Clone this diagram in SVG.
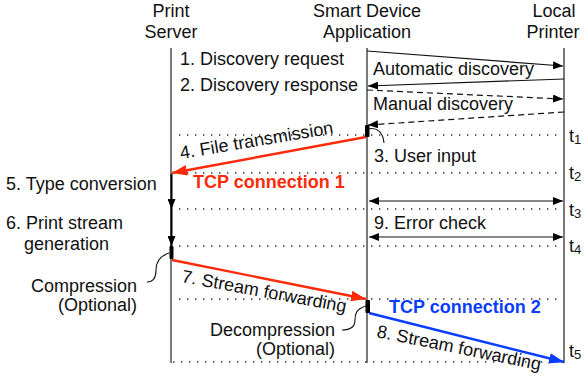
<svg xmlns="http://www.w3.org/2000/svg" width="586" height="379" viewBox="0 0 586 379">
<defs>
<style>
text{font-family:"Liberation Sans",Arial,sans-serif;font-size:18px;fill:#111}
.life{stroke:#333;stroke-width:1.3;fill:none}
.dot{stroke:#333;stroke-width:1.4;stroke-dasharray:1.4 6.6;fill:none}
.msg{stroke:#111;stroke-width:1.2;fill:none}
.dash{stroke:#111;stroke-width:1.2;stroke-dasharray:6 4;fill:none}
.red{stroke:#ff2a0a;stroke-width:2.4;fill:none}
.blue{stroke:#0a3cff;stroke-width:2.4;fill:none}
.bar{fill:#000}
.curve{stroke:#111;stroke-width:1.1;fill:none}
.tcp1{fill:#ff2a0a;font-weight:bold}
.tcp2{fill:#0a3cff;font-weight:bold}
.sub{font-size:13px}
</style>
<marker id="ah" viewBox="0 0 10 8" refX="10" refY="4" markerWidth="10" markerHeight="8" markerUnits="userSpaceOnUse" orient="auto-start-reverse"><path d="M0,0L10,4L0,8z" fill="#000"/></marker>
<marker id="ahr" viewBox="0 0 14 10" refX="14" refY="5" markerWidth="15" markerHeight="11" markerUnits="userSpaceOnUse" orient="auto"><path d="M0,0L14,5L0,10z" fill="#ff2a0a"/></marker>
<marker id="ahb" viewBox="0 0 14 10" refX="14" refY="5" markerWidth="15" markerHeight="11" markerUnits="userSpaceOnUse" orient="auto"><path d="M0,0L14,5L0,10z" fill="#0a3cff"/></marker>
</defs>

<g id="print-server">
<text x="171" y="17" text-anchor="middle">Print</text>
<text x="171" y="38" text-anchor="middle">Server</text>
<line class="life" x1="171" y1="48" x2="171" y2="363"/>
</g>
<g id="smart-device">
<text x="367" y="17" text-anchor="middle">Smart Device</text>
<text x="367" y="38" text-anchor="middle">Application</text>
<line class="life" x1="367" y1="48" x2="367" y2="363"/>
</g>
<g id="local-printer">
<text x="554" y="17" text-anchor="middle">Local</text>
<text x="553" y="38" text-anchor="middle">Printer</text>
<line class="life" x1="564" y1="48" x2="564" y2="363"/>
</g>

<g id="time-marks">
<line class="dot" x1="179" y1="135" x2="562" y2="135"/>
<line class="dot" x1="179" y1="173" x2="562" y2="173"/>
<line class="dot" x1="179" y1="209" x2="562" y2="209"/>
<line class="dot" x1="179" y1="246" x2="562" y2="246"/>
<line class="dot" x1="179" y1="299" x2="562" y2="299"/>
<line class="dot" x1="173" y1="362" x2="562" y2="362"/>
<text x="569" y="142">t<tspan class="sub" dy="2">1</tspan></text>
<text x="569" y="179">t<tspan class="sub" dy="2">2</tspan></text>
<text x="569" y="216">t<tspan class="sub" dy="2">3</tspan></text>
<text x="569" y="252">t<tspan class="sub" dy="2">4</tspan></text>
<text x="569" y="357">t<tspan class="sub" dy="2">5</tspan></text>
</g>

<g id="connectors">
<line class="msg" x1="367" y1="51" x2="563" y2="66" marker-end="url(#ah)"/>
<line class="msg" x1="564" y1="79" x2="368" y2="86" marker-end="url(#ah)"/>
<line class="dash" x1="367" y1="90" x2="563" y2="99" marker-end="url(#ah)"/>
<line class="dash" x1="564" y1="112" x2="368" y2="125" marker-end="url(#ah)"/>
<line class="red" x1="366" y1="137" x2="172" y2="173" marker-end="url(#ahr)"/>
<line class="msg" x1="369" y1="201" x2="563" y2="201" stroke-width="1.4" marker-start="url(#ah)" marker-end="url(#ah)"/>
<line class="msg" x1="369" y1="237" x2="563" y2="237" stroke-width="1.4" marker-start="url(#ah)" marker-end="url(#ah)"/>
<line x1="171.5" y1="174" x2="171.5" y2="209" stroke="#000" stroke-width="2" marker-end="url(#ah)"/>
<line x1="171.5" y1="209" x2="171.5" y2="246" stroke="#000" stroke-width="2" marker-end="url(#ah)"/>
<line class="red" x1="172" y1="260" x2="366" y2="299" marker-end="url(#ahr)"/>
<line class="blue" x1="369" y1="313" x2="564" y2="362" marker-end="url(#ahb)"/>
<path class="curve" d="M368,129 C377,127 383,132 384,143"/>
<path class="curve" d="M169,253 C160,256 156,262 156,270 C156,278 153,282 147,282"/>
<path class="curve" d="M366,306 C356,309 355,314 355,320 C355,327 350,330 342,330"/>
</g>

<g id="blocks">
<rect class="bar" x="365" y="125" width="4.5" height="12" rx="1"/>
<rect class="bar" x="169.5" y="246" width="4" height="13" rx="1"/>
<rect class="bar" x="365.5" y="300" width="4.5" height="13" rx="1"/>
</g>

<g id="labels">
<text x="180" y="65">1. Discovery request</text>
<text x="180" y="91">2. Discovery response</text>
<text x="373" y="75">Automatic discovery</text>
<text x="373" y="110">Manual discovery</text>
<text x="374" y="162">3. User input</text>
<text transform="translate(181,159) rotate(-9.5)">4. File transmission</text>
<text class="tcp1" x="193" y="188">TCP connection 1</text>
<text x="6" y="190">5. Type conversion</text>
<text x="6" y="229">6. Print stream</text>
<text x="24" y="250">generation</text>
<text x="137" y="292" text-anchor="end">Compression</text>
<text x="137" y="311" text-anchor="end">(Optional)</text>
<text transform="translate(181,282) rotate(10.5)">7. Stream forwarding</text>
<text x="335" y="336" text-anchor="end">Decompression</text>
<text x="335" y="355" text-anchor="end">(Optional)</text>
<text class="tcp2" x="389" y="313">TCP connection 2</text>
<text transform="translate(376,337) rotate(11.5)">8. Stream forwarding</text>
<text x="374" y="229">9. Error check</text>
</g>
</svg>
